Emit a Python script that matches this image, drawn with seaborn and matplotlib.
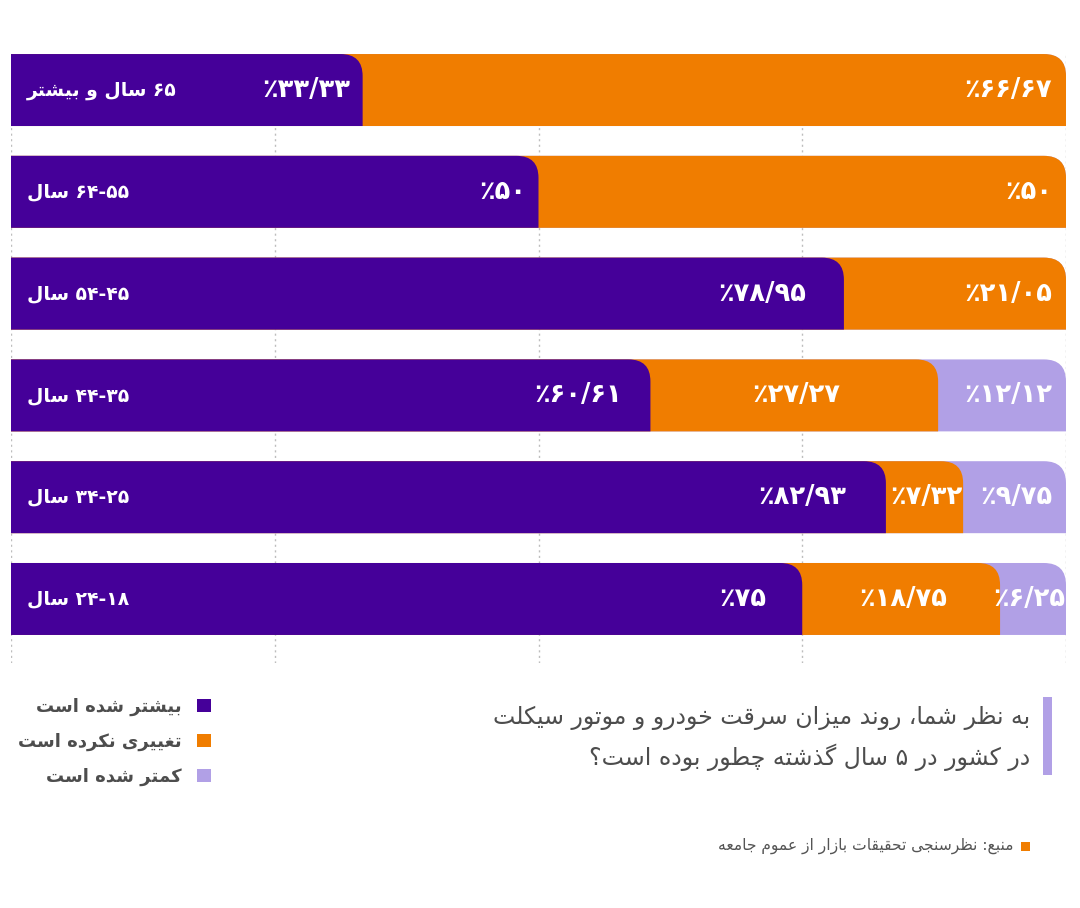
import re
import numpy as np
import pandas as pd
import matplotlib
matplotlib.use('Agg')
import matplotlib.pyplot as plt
from matplotlib.path import Path
from matplotlib.patches import PathPatch, Patch, Rectangle
import seaborn as sns

sns.set_style('white')
plt.rcParams['font.family'] = ['DejaVu Sans']

# data (top row first)
groups = ['۶۵ سال و بیشتر', '۵۵-۶۴ سال', '۴۵-۵۴ سال',
          '۳۵-۴۴ سال', '۲۵-۳۴ سال', '۱۸-۲۴ سال']
more = [33.33, 50, 78.95, 60.61, 82.93, 75]
same = [66.67, 50, 21.05, 27.27, 7.32, 18.75]
less = [0, 0, 0, 12.12, 9.75, 6.25]
series = ['بیشتر شده است', 'تغییری نکرده است', 'کمتر شده است']
title_lines = ['به نظر شما، روند میزان سرقت خودرو و موتور سیکلت',
               'در کشور در ۵ سال گذشته چطور بوده است؟']
source = 'منبع: نظرسنجی تحقیقات بازار از عموم جامعه'

PURPLE = '#450099'
ORANGE = '#F07D00'
LAVENDER = '#B1A0E6'
GREY = '#4D4D4D'

# --- minimal persian shaping (matplotlib has no bidi / joining) ---
FORMS = {
    'ا': '\uFE8D\uFE8E', 'آ': '\uFE81\uFE82', 'د': '\uFEA9\uFEAA',
    'ذ': '\uFEAB\uFEAC', 'ر': '\uFEAD\uFEAE', 'ز': '\uFEAF\uFEB0',
    'ژ': '\uFB8A\uFB8B', 'و': '\uFEED\uFEEE',
    'ب': '\uFE8F\uFE90\uFE91\uFE92', 'پ': '\uFB56\uFB57\uFB58\uFB59',
    'ت': '\uFE95\uFE96\uFE97\uFE98', 'ث': '\uFE99\uFE9A\uFE9B\uFE9C',
    'ج': '\uFE9D\uFE9E\uFE9F\uFEA0', 'چ': '\uFB7A\uFB7B\uFB7C\uFB7D',
    'ح': '\uFEA1\uFEA2\uFEA3\uFEA4', 'خ': '\uFEA5\uFEA6\uFEA7\uFEA8',
    'س': '\uFEB1\uFEB2\uFEB3\uFEB4', 'ش': '\uFEB5\uFEB6\uFEB7\uFEB8',
    'ص': '\uFEB9\uFEBA\uFEBB\uFEBC', 'ض': '\uFEBD\uFEBE\uFEBF\uFEC0',
    'ط': '\uFEC1\uFEC2\uFEC3\uFEC4', 'ظ': '\uFEC5\uFEC6\uFEC7\uFEC8',
    'ع': '\uFEC9\uFECA\uFECB\uFECC', 'غ': '\uFECD\uFECE\uFECF\uFED0',
    'ف': '\uFED1\uFED2\uFED3\uFED4', 'ق': '\uFED5\uFED6\uFED7\uFED8',
    'ک': '\uFB8E\uFB8F\uFB90\uFB91', 'گ': '\uFB92\uFB93\uFB94\uFB95',
    'ل': '\uFEDD\uFEDE\uFEDF\uFEE0', 'م': '\uFEE1\uFEE2\uFEE3\uFEE4',
    'ن': '\uFEE5\uFEE6\uFEE7\uFEE8', 'ه': '\uFEE9\uFEEA\uFEEB\uFEEC',
    'ی': '\uFBFC\uFBFD\uFBFE\uFBFF',
}


def fa(text):
    text = text.replace('ي', 'ی').replace('ك', 'ک')
    out = []
    for i, c in enumerate(text):
        f = FORMS.get(c)
        if f is None:
            out.append(c)
            continue
        p = text[i - 1] if i > 0 else ''
        n = text[i + 1] if i + 1 < len(text) else ''
        jp = p in FORMS and len(FORMS[p]) == 4
        jn = len(f) == 4 and n in FORMS
        out.append(f[3] if jp and jn else f[1] if jp else f[2] if jn else f[0])
    tokens = re.findall(r'[۰-۹/]+|.', ''.join(out))
    return ''.join(reversed(tokens))


def fa_num(v):
    s = ('%.2f' % v).rstrip('0').rstrip('.')
    return s.translate(str.maketrans('0123456789.', '۰۱۲۳۴۵۶۷۸۹/')) + '٪'


df = pd.DataFrame({'group': groups, 'more': more, 'same': same, 'less': less})
df['c_more'] = df['more']
df['c_same'] = df['more'] + df['same']
df['c_less'] = df['c_same'] + df['less']

fig = plt.figure(figsize=(10.8, 9.08), dpi=100)
ax = fig.add_axes([11 / 1080, 1 - 663 / 908, 1055 / 1080, 609 / 908])

for col, color in [('c_less', LAVENDER), ('c_same', ORANGE), ('c_more', PURPLE)]:
    sns.barplot(data=df, x=col, y='group', color=color, saturation=1,
                width=0.707, orient='h', errorbar=None, ax=ax)

ax.set_xlim(0, 100)
ax.set_ylim(5.629, -0.354)

PX = 10.55  # pixels per x unit
# rounded top-right corners
rx = 22 / PX
ry = 22 / 101.8
for p in list(ax.patches):
    x0, w = p.get_x(), p.get_width()
    y0, h = p.get_y(), p.get_height()
    fc = p.get_facecolor()
    p.remove()
    if w < 0.01:
        continue
    x1 = x0 + w
    ytop, ybot = min(y0, y0 + h), max(y0, y0 + h)
    r = min(rx, w)
    verts = [(x0, ybot), (x1, ybot), (x1, ytop + ry), (x1, ytop),
             (x1 - r, ytop), (x0, ytop), (x0, ybot)]
    codes = [Path.MOVETO, Path.LINETO, Path.LINETO, Path.CURVE3,
             Path.CURVE3, Path.LINETO, Path.CLOSEPOLY]
    ax.add_patch(PathPatch(Path(verts, codes), facecolor=fc,
                           edgecolor='none', lw=0, zorder=2))

# labels
vfont = dict(color='white', fontsize=18.5, fontweight='bold', va='center', zorder=5)
for i, row in df.iterrows():
    ax.text(1.52, i, fa(row['group']), ha='left', va='center',
            color='white', fontsize=13.5, fontweight='bold', zorder=5)
    # first segment
    w = row['more']
    off = 12 if w < 55 else 0.045 * w * PX
    ax.text(w - off / PX, i, fa(fa_num(w)), ha='right', **vfont)
    # middle segment
    start, w = row['c_more'], row['same']
    if row['less'] == 0:
        ax.text(start + w - 14 / PX, i, fa(fa_num(w)), ha='right', **vfont)
    else:
        ax.text(start + w / 2 + 0.2, i, fa(fa_num(w)), ha='center', **vfont)
    # last segment
    start, w = row['c_same'], row['less']
    if w > 0:
        if w * PX >= 90:
            ax.text(start + w - 14 / PX, i, fa(fa_num(w)), ha='right', **vfont)
        else:
            ax.text(start + w / 2 - 0.35, i, fa(fa_num(w)), ha='center', **vfont)

ax.set_xticks([0, 25, 50, 75, 100])
ax.grid(axis='x', color='#BDBDBD', ls=(0, (1.5, 2.5)), lw=1)
ax.grid(axis='y', visible=False)
ax.set_axisbelow(True)
ax.tick_params(length=0, labelbottom=False, labelleft=False)
ax.set_xlabel('')
ax.set_ylabel('')
for s in ax.spines.values():
    s.set_visible(False)

# legend (marker on the right)
handles = [Patch(facecolor=c, edgecolor='none') for c in [PURPLE, ORANGE, LAVENDER]]
leg = fig.legend(handles, [fa(s) for s in series], loc='upper right',
                 bbox_to_anchor=(211 / 1080, 1 - 698 / 908),
                 bbox_transform=fig.transFigure, frameon=False,
                 markerfirst=False, handlelength=0.75, handleheight=0.75,
                 handletextpad=0.9, labelspacing=0.93, borderpad=0,
                 borderaxespad=0, prop={'size': 13, 'weight': 'bold'})
for t in leg.get_texts():
    t.set_color(GREY)

# title block
fig.text(1030 / 1080, 1 - 718 / 908, fa(title_lines[0]), ha='right', va='center',
         fontsize=17, color=GREY)
fig.text(1030 / 1080, 1 - 757 / 908, fa(title_lines[1]), ha='right', va='center',
         fontsize=17, color=GREY)
fig.add_artist(Rectangle((1043 / 1080, 1 - 775 / 908), 9 / 1080, 78 / 908,
                         transform=fig.transFigure, color=LAVENDER, lw=0))

# source
fig.text(1013 / 1080, 1 - 846 / 908, fa(source), ha='right', va='center',
         fontsize=11.2, color='#555555')
fig.add_artist(Rectangle((1021 / 1080, 1 - 851 / 908), 9 / 1080, 9 / 908,
                         transform=fig.transFigure, color=ORANGE, lw=0))

fig.savefig('out.png', dpi=100)
